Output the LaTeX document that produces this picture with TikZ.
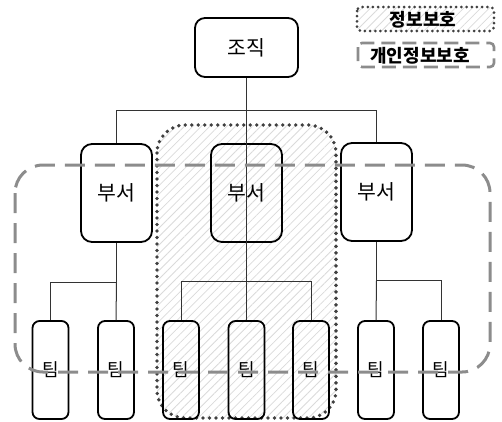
\documentclass[tikz,border=0pt]{standalone}
\usepackage{fontspec}
\newfontfamily\kr{Noto Sans CJK KR}
\usetikzlibrary{patterns.meta}
\definecolor{dotc}{HTML}{404040}
\definecolor{dashc}{HTML}{8C8C8C}
\definecolor{linec}{HTML}{333333}
\definecolor{hatchc}{HTML}{DADADA}
\begin{document}
\begin{tikzpicture}[x=1pt,y=-1pt,
  box/.style={draw=black,line width=1.8pt,rounded corners=10pt,inner sep=0pt,font=\kr\fontsize{20.5}{20.5}\selectfont},
  dept/.style={box,minimum width=71pt,minimum height=98pt,rounded corners=11pt},
  team/.style={box,minimum width=36pt,minimum height=98pt,rounded corners=7pt,font=\kr\fontsize{18}{18}\selectfont},
  conn/.style={draw=linec,line width=1pt},
  hatch/.style={pattern={Lines[angle=45,distance=6pt,line width=0.8pt]},pattern color=hatchc},
  dotborder/.style={draw=dotc,line width=3.8pt,line cap=round,dash pattern=on 0pt off 6.5pt},
  privarea/.style={draw=dashc,line width=3pt,dash pattern=on 20pt off 10pt},
  legtext/.style={inner sep=0pt,font=\kr\bfseries\fontsize{18}{18}\selectfont}
]
\useasboundingbox (0,0) rectangle (502,421);
% info-protection region (behind)
\path[hatch,rounded corners=28pt] (157,125) rectangle (336,418);
\draw[dotborder,rounded corners=28pt] (157,125) rectangle (336,418);
% nodes
\node[box,minimum width=103pt,minimum height=59pt] (jo) at (246.5,47.5) {조직};
\node[dept] (b1) at (116.5,193) {부서};
\node[dept] (b2) at (246.5,193) {부서};
\node[dept] (b3) at (376.5,192) {부서};
\node[team] (t1) at (50.5,370) {팀};
\node[team] (t2) at (116,370) {팀};
\node[team] (t3) at (181,370) {팀};
\node[team] (t4) at (246.5,370) {팀};
\node[team] (t5) at (311,370) {팀};
\node[team] (t6) at (376,370) {팀};
\node[team] (t7) at (441,370) {팀};
\coordinate (h1) at (246.5,110);
\coordinate (h2) at (246.5,281);
\coordinate (hL) at (116.5,282);
\coordinate (hR) at (376.5,280);
% connectors
\draw[conn] (jo.south) -- (t4.north);
\draw[conn] (b1.north) -- (b1.north |- h1) -- (b3.north |- h1) -- (b3.north);
\draw[conn] (t3.north) -- (t3.north |- h2) -- (t5.north |- h2) -- (t5.north);
\draw[conn] (b1.south) -- (hL) -- (t1.north |- hL) -- (t1.north);
\draw[conn] (hL) -- (t2.north);
\draw[conn] (b3.south) -- (hR) -- (t7.north |- hR) -- (t7.north);
\draw[conn] (hR) -- (t6.north);
% personal-info region (on top)
\draw[privarea,rounded corners=28pt] (15,165) rectangle (490,372);
% legend
\path[hatch,rounded corners=4pt] (357,7) rectangle (494,31);
\draw[dotborder,line width=3pt,dash pattern=on 0pt off 5.2pt,rounded corners=4pt] (357,7) rectangle (494,31);
\node[legtext] (lg1) at (423,19.5) {정보보호};
\draw[privarea,line width=2.6pt,dash pattern=on 14pt off 7pt,rounded corners=4pt] (358,43) rectangle (494,67);
\node[legtext] (lg2) at (420,56) {개인정보보호};
\end{tikzpicture}
\end{document}
